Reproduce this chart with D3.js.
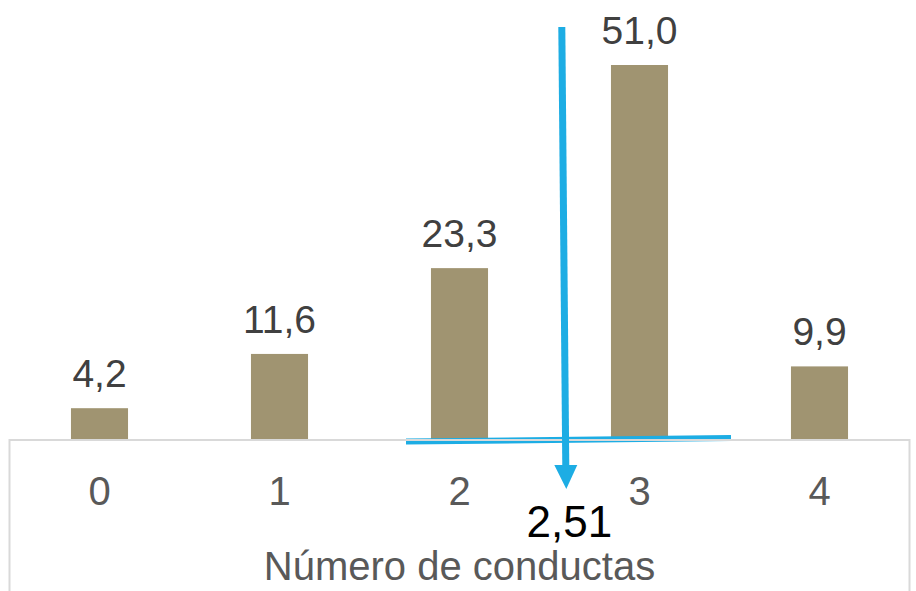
<!DOCTYPE html>
<html>
<head>
<meta charset="utf-8">
<script src="https://cdn.jsdelivr.net/npm/d3@7"></script>
<style>
  body { margin: 0; background: #fff; }
  svg { display: block; font-family: "Liberation Sans", Arial, sans-serif; }
</style>
</head>
<body>
<svg id="chart"></svg>
<script>
var categories = ["0", "1", "2", "3", "4"];
var values = [4.2, 11.6, 23.3, 51.0, 9.9];
var meanValue = 2.51;
var axisTitle = "Número de conductas";

var width = 916,
    height = 591;

var svg = d3.select("#chart")
            .attr("width", width)
            .attr("height", height);

var x = d3.scaleBand()
          .domain(categories)
          .range([9.5, 909.5])
          .paddingInner(0.683)
          .paddingOuter(0.3415);

var y = d3.scaleLinear()
          .domain([0, 51])
          .range([439, 65]);

// category index -> band centre, used for the mean arrow
var xIdx = d3.scaleLinear()
             .domain([0, categories.length - 1])
             .range([x(categories[0]) + x.bandwidth() / 2, x(categories[categories.length - 1]) + x.bandwidth() / 2]);

var fmt = function(v) { return d3.format(".1f")(v).replace(".", ","); };

svg.selectAll(".bar")
   .data(values)
   .enter().append("rect")
   .attr("class", "bar")
   .attr("x", function(d, i) { return x(categories[i]); })
   .attr("y", function(d) { return y(d); })
   .attr("width", x.bandwidth())
   .attr("height", function(d) { return y(0) - y(d); })
   .attr("fill", "#a09471");

svg.selectAll(".val")
   .data(values)
   .enter().append("text")
   .attr("class", "val")
   .attr("x", function(d, i) { return x(categories[i]) + x.bandwidth() / 2; })
   .attr("y", function(d) { return y(d) - 21; })
   .attr("text-anchor", "middle")
   .attr("font-size", 39)
   .attr("fill", "#404040")
   .text(fmt);

var xAxis = d3.axisBottom(x).tickSize(0).tickPadding(0);
var gx = svg.append("g")
            .attr("transform", "translate(0," + y(0) + ")")
            .call(xAxis);
gx.select(".domain").remove();
gx.selectAll("text")
  .attr("dy", null)
  .attr("y", 66)
  .attr("font-size", 40)
  .attr("font-family", "Liberation Sans, Arial, sans-serif")
  .attr("fill", "#595959");

svg.append("text")
   .attr("x", 459.5)
   .attr("y", 580)
   .attr("text-anchor", "middle")
   .attr("font-size", 40)
   .attr("fill", "#595959")
   .text(axisTitle);

// mean annotation (hand-drawn arrow in the original, slightly tilted)
var blue = "#1dade4";
var arrowNudge = 13;
var ax = xIdx(meanValue) + arrowNudge;

svg.append("line")
   .attr("x1", 406).attr("y1", 441.5)
   .attr("x2", 731).attr("y2", 438)
   .attr("stroke", blue)
   .attr("stroke-width", 6);

// grey frame below the bars, drawn over the blue baseline stroke
svg.append("path")
   .attr("d", "M9.5," + height + "V" + (y(0) + 1) + "H909.5V" + height)
   .attr("fill", "none")
   .attr("stroke", "#d9d9d9")
   .attr("stroke-width", 2);

svg.append("line")
   .attr("x1", ax - 2.5).attr("y1", 27)
   .attr("x2", ax + 1.5).attr("y2", 468)
   .attr("stroke", blue)
   .attr("stroke-width", 7);

svg.append("path")
   .attr("d", "M" + (ax - 10) + ",465L" + (ax + 13) + ",465L" + (ax + 2) + ",489Z")
   .attr("fill", blue);

svg.append("text")
   .attr("x", ax + 5)
   .attr("y", 537)
   .attr("text-anchor", "middle")
   .attr("font-size", 44)
   .attr("fill", "#000")
   .text(String(meanValue).replace(".", ","));
</script>
</body>
</html>
